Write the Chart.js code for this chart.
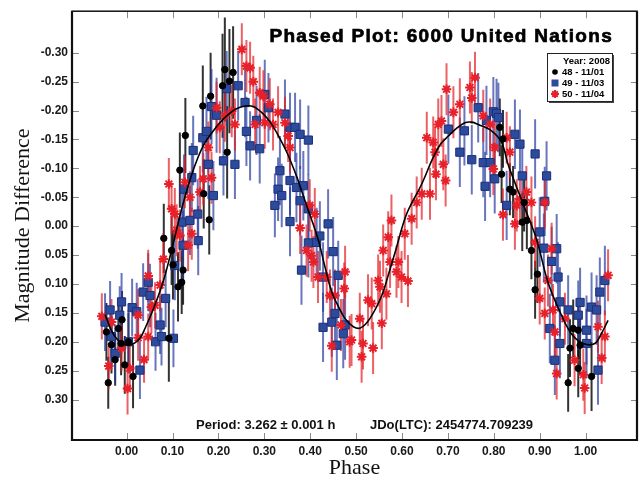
<!DOCTYPE html>
<html>
<head>
<meta charset="utf-8">
<title>Phased Plot: 6000 United Nations</title>
<script src="https://cdn.jsdelivr.net/npm/chart.js@4.4.1/dist/chart.umd.min.js"></script>
<style>
  html, body { margin: 0; padding: 0; background: #fff; }
  #plot { display: block; }
</style>
</head>
<body>
<canvas id="plot" width="644" height="481"></canvas>
<script>
// session points: [phase, magnitude difference, error]
const s48 = [
  [-0.044, 0.183, 0.05], [-0.040, 0.271, 0.045], [-0.033, 0.205, 0.05], [-0.025, 0.231, 0.045],
  [-0.018, 0.177, 0.05], [-0.012, 0.203, 0.055], [-0.010, 0.162, 0.05], [-0.004, 0.240, 0.05],
  [0.004, 0.200, 0.05], [0.014, 0.260, 0.055], [0.081, 0.021, 0.06], [0.092, 0.194, 0.075],
  [0.098, 0.042, 0.06], [0.101, 0.067, 0.06], [0.112, 0.105, 0.06], [0.120, 0.097, 0.055],
  [0.123, 0.076, 0.06], [0.116, -0.097, 0.065], [0.128, -0.157, 0.065], [0.166, -0.208, 0.07],
  [0.168, -0.056, 0.06], [0.180, -0.011, 0.06], [0.183, -0.225, 0.075], [0.209, -0.243, 0.09],
  [0.214, -0.271, 0.09], [0.219, -0.128, 0.08], [0.224, -0.251, 0.09], [0.232, -0.266, 0.08],
  [0.813, -0.171, 0.05], [0.820, -0.151, 0.05], [0.817, -0.090, 0.05], [0.835, -0.064, 0.045],
  [0.842, -0.059, 0.045], [0.862, -0.007, 0.05], [0.866, -0.041, 0.05], [0.872, -0.010, 0.05],
  [0.882, 0.042, 0.05], [0.890, 0.110, 0.05], [0.895, 0.083, 0.05], [0.962, 0.271, 0.05],
  [0.966, 0.211, 0.05], [0.973, 0.177, 0.05], [0.984, 0.180, 0.05], [0.984, 0.246, 0.05],
  [0.988, 0.206, 0.05], [1.013, 0.260, 0.06]
];

const s49 = [
  [-0.047, 0.166, 0.05], [-0.036, 0.145, 0.05], [-0.033, 0.191, 0.05], [-0.025, 0.220, 0.05],
  [-0.015, 0.154, 0.05], [-0.011, 0.131, 0.05], [0.004, 0.200, 0.055], [0.012, 0.141, 0.05],
  [0.022, 0.148, 0.05], [0.029, 0.249, 0.05], [0.036, 0.114, 0.05], [0.047, 0.097, 0.05],
  [0.051, 0.120, 0.055], [0.063, 0.200, 0.05], [0.073, 0.171, 0.05], [0.076, 0.191, 0.05],
  [0.085, 0.125, 0.05], [0.102, 0.194, 0.05], [0.121, -0.007, 0.06], [0.123, 0.033, 0.06],
  [0.105, 0.068, 0.06], [0.125, -0.064, 0.06], [0.138, -0.010, 0.06], [0.142, -0.084, 0.06],
  [0.145, -0.131, 0.06], [0.155, -0.021, 0.06], [0.156, 0.025, 0.06], [0.166, -0.153, 0.06],
  [0.174, -0.164, 0.06], [0.178, -0.107, 0.06], [0.185, -0.207, 0.065], [0.189, -0.053, 0.06],
  [0.196, -0.192, 0.065], [0.211, -0.113, 0.06], [0.218, -0.238, 0.065], [0.236, -0.107, 0.06],
  [0.243, -0.243, 0.06], [0.258, -0.214, 0.06], [0.261, -0.164, 0.06], [0.269, -0.139, 0.06],
  [0.283, -0.183, 0.06], [0.290, -0.134, 0.06], [0.301, -0.228, 0.06], [0.309, -0.205, 0.06],
  [0.323, -0.036, 0.055], [0.330, -0.064, 0.055], [0.334, -0.096, 0.06], [0.338, -0.053, 0.055],
  [0.345, -0.194, 0.06], [0.356, -0.171, 0.06], [0.356, -0.079, 0.06], [0.356, -0.008, 0.06],
  [0.367, -0.171, 0.06], [0.370, -0.067, 0.06], [0.378, -0.159, 0.06], [0.378, -0.044, 0.06],
  [0.381, 0.076, 0.06], [0.385, -0.070, 0.06], [0.396, -0.149, 0.06], [0.396, -0.030, 0.06],
  [0.396, 0.029, 0.06], [0.414, 0.028, 0.06], [0.421, 0.017, 0.06], [0.428, 0.088, 0.06],
  [0.428, 0.175, 0.06], [0.439, -0.004, 0.06], [0.447, 0.166, 0.06], [0.450, 0.044, 0.06],
  [0.454, 0.151, 0.06], [0.458, 0.206, 0.06], [0.461, 0.085, 0.06], [0.472, 0.186, 0.06],
  [0.476, 0.171, 0.06],
  [0.701, -0.168, 0.06], [0.726, -0.128, 0.06], [0.736, -0.165, 0.06], [0.752, -0.115, 0.06],
  [0.766, -0.205, 0.06], [0.777, -0.110, 0.06], [0.781, -0.069, 0.06], [0.784, -0.183, 0.06],
  [0.792, -0.110, 0.06], [0.799, -0.198, 0.06], [0.802, -0.082, 0.06], [0.806, -0.195, 0.06],
  [0.810, -0.188, 0.06], [0.828, -0.036, 0.06], [0.846, -0.159, 0.06], [0.857, -0.142, 0.06],
  [0.862, -0.087, 0.06], [0.890, -0.125, 0.06], [0.900, 0.010, 0.06], [0.909, 0.038, 0.06],
  [0.911, -0.043, 0.06], [0.915, -0.087, 0.06], [0.922, 0.177, 0.06], [0.926, 0.061, 0.06],
  [0.933, 0.232, 0.06], [0.937, 0.039, 0.06], [0.940, 0.088, 0.06], [0.944, 0.131, 0.06],
  [0.944, 0.203, 0.06], [0.962, 0.145, 0.06], [0.984, 0.154, 0.06], [0.988, 0.132, 0.06],
  [1.002, 0.180, 0.06], [1.002, 0.203, 0.06], [1.013, 0.140, 0.06], [1.024, 0.145, 0.06],
  [1.027, 0.249, 0.06], [1.031, 0.114, 0.06], [1.042, 0.094, 0.06]
];

const s50 = [
  [-0.054, 0.156, 0.04], [-0.039, 0.242, 0.04], [-0.033, 0.166, 0.04], [-0.011, 0.211, 0.04],
  [0.002, 0.281, 0.045], [0.007, 0.246, 0.04], [0.025, 0.154, 0.045], [0.025, 0.193, 0.04],
  [0.038, 0.231, 0.04], [0.047, 0.086, 0.045], [0.047, 0.191, 0.04], [0.054, 0.140, 0.045],
  [0.062, 0.137, 0.04], [0.073, 0.102, 0.045], [0.080, 0.057, 0.045], [0.092, -0.073, 0.045],
  [0.098, -0.030, 0.045], [0.105, -0.021, 0.045], [0.109, 0.007, 0.045], [0.116, 0.016, 0.045],
  [0.127, -0.076, 0.045], [0.134, 0.033, 0.045], [0.138, -0.050, 0.045], [0.142, 0.013, 0.045],
  [0.160, -0.059, 0.045], [0.167, -0.082, 0.045], [0.178, -0.136, 0.045], [0.185, -0.084, 0.045],
  [0.196, -0.205, 0.045], [0.203, -0.171, 0.045], [0.214, -0.191, 0.045], [0.229, -0.199, 0.045],
  [0.236, -0.176, 0.045], [0.251, -0.306, 0.045], [0.261, -0.277, 0.045], [0.269, -0.274, 0.045],
  [0.276, -0.250, 0.045], [0.280, -0.176, 0.045], [0.290, -0.231, 0.045], [0.298, -0.225, 0.045],
  [0.301, -0.179, 0.045], [0.312, -0.211, 0.045], [0.319, -0.176, 0.045], [0.330, -0.197, 0.045],
  [0.345, -0.179, 0.045], [0.352, -0.156, 0.045], [0.356, -0.136, 0.045], [0.378, 0.003, 0.045],
  [0.392, 0.042, 0.045], [0.399, -0.036, 0.045], [0.403, 0.051, 0.045], [0.407, 0.062, 0.045],
  [0.410, -0.021, 0.045], [0.417, 0.088, 0.045], [0.436, 0.088, 0.045], [0.443, 0.120, 0.045],
  [0.447, 0.207, 0.045], [0.454, 0.120, 0.045], [0.467, 0.171, 0.045], [0.474, 0.108, 0.045],
  [0.476, 0.079, 0.045], [0.486, 0.200, 0.045], [0.490, 0.197, 0.045], [0.508, 0.160, 0.045],
  [0.512, 0.226, 0.045], [0.515, 0.203, 0.045], [0.526, 0.128, 0.045], [0.534, 0.134, 0.045],
  [0.537, 0.211, 0.045], [0.548, 0.094, 0.045], [0.552, 0.105, 0.045], [0.556, 0.168, 0.045],
  [0.559, 0.042, 0.045], [0.566, 0.117, 0.045], [0.570, 0.019, 0.045], [0.574, 0.062, 0.045],
  [0.577, -0.010, 0.045], [0.588, 0.079, 0.045], [0.592, 0.062, 0.045], [0.599, 0.088, 0.045],
  [0.606, 0.013, 0.045], [0.613, 0.095, 0.045], [0.621, -0.013, 0.045], [0.632, -0.041, 0.045],
  [0.643, -0.056, 0.045], [0.654, -0.153, 0.045], [0.661, -0.056, 0.045], [0.668, -0.145, 0.045],
  [0.672, -0.128, 0.045], [0.674, -0.090, 0.045], [0.679, -0.176, 0.045], [0.686, -0.182, 0.045],
  [0.690, -0.107, 0.045], [0.695, -0.079, 0.045], [0.697, -0.237, 0.045], [0.712, -0.197, 0.045],
  [0.726, -0.211, 0.045], [0.748, -0.240, 0.045], [0.752, -0.222, 0.045], [0.759, -0.257, 0.045],
  [0.777, -0.191, 0.045], [0.792, -0.176, 0.045], [0.799, -0.099, 0.045], [0.802, -0.136, 0.045],
  [0.820, -0.020, 0.045], [0.828, -0.153, 0.045], [0.835, -0.128, 0.045], [0.846, -0.004, 0.045],
  [0.850, -0.036, 0.045], [0.857, -0.047, 0.045], [0.871, -0.059, 0.045], [0.882, -0.041, 0.045],
  [0.890, 0.028, 0.045], [0.900, 0.125, 0.045], [0.911, -0.041, 0.045], [0.911, 0.151, 0.045],
  [0.918, 0.094, 0.045], [0.926, 0.039, 0.045], [0.929, 0.145, 0.045], [0.933, 0.183, 0.045],
  [0.937, 0.255, 0.045], [0.955, 0.160, 0.045], [0.976, 0.232, 0.045], [0.995, 0.257, 0.045],
  [0.998, 0.280, 0.045], [1.027, 0.174, 0.045], [1.035, 0.228, 0.045], [1.042, 0.191, 0.045],
  [1.049, 0.085, 0.045]
];

// fitted lightcurve: [phase, magnitude difference]
const fitCurve = [
  [-0.047, 0.153], [-0.030, 0.185], [-0.010, 0.203], [0.010, 0.205], [0.029, 0.194], [0.040, 0.177],
  [0.060, 0.140], [0.080, 0.095], [0.100, 0.035], [0.120, -0.030], [0.138, -0.080], [0.155, -0.118],
  [0.171, -0.145], [0.190, -0.166], [0.203, -0.179], [0.220, -0.192], [0.236, -0.202], [0.258, -0.208],
  [0.276, -0.207], [0.298, -0.194], [0.313, -0.180], [0.327, -0.162], [0.349, -0.128], [0.370, -0.087],
  [0.392, -0.036], [0.417, 0.022], [0.432, 0.070], [0.447, 0.114], [0.462, 0.140], [0.476, 0.160],
  [0.494, 0.174], [0.510, 0.176], [0.530, 0.160], [0.556, 0.120], [0.570, 0.085], [0.585, 0.045],
  [0.610, -0.021], [0.643, -0.073], [0.668, -0.119], [0.685, -0.143], [0.701, -0.156], [0.720, -0.170],
  [0.737, -0.179], [0.752, -0.180], [0.766, -0.176], [0.795, -0.165], [0.817, -0.145], [0.831, -0.107],
  [0.850, -0.067], [0.870, -0.026], [0.893, 0.022], [0.918, 0.097], [0.944, 0.148], [0.969, 0.186],
  [0.995, 0.203], [1.020, 0.203], [1.035, 0.185], [1.049, 0.163]
];

const xTicks = [0.00, 0.10, 0.20, 0.30, 0.40, 0.50, 0.60, 0.70, 0.80, 0.90, 1.00];
const yTicks = [-0.30, -0.25, -0.20, -0.15, -0.10, -0.05, 0.00, 0.05, 0.10, 0.15, 0.20, 0.25, 0.30];

const chartTitle = 'Phased Plot: 6000 United Nations';
const periodNote = 'Period: 3.262 \u00b1 0.001 h';
const epochNote = 'JDo(LTC): 2454774.709239';
const legendHeader = 'Year: 2008';

const SANS = '"Liberation Sans", Arial, sans-serif';
const SERIF = '"Liberation Serif", "Times New Roman", serif';

function toPoints(rows) {
  return rows.map(r => ({ x: r[0], y: r[1], err: r[2] }));
}

// vertical error bars behind the markers
const errorBars = {
  id: 'errorBars',
  beforeDatasetsDraw(chart) {
    const { ctx, scales: { x, y } } = chart;
    ctx.save();
    ctx.beginPath();
    ctx.rect(chart.chartArea.left, chart.chartArea.top, chart.chartArea.width, chart.chartArea.height);
    ctx.clip();
    chart.data.datasets.forEach(ds => {
      if (!ds.barColor) return;
      ctx.strokeStyle = ds.barColor;
      ctx.lineWidth = 2;
      ds.data.forEach(p => {
        const px = x.getPixelForValue(p.x);
        ctx.beginPath();
        ctx.moveTo(px, y.getPixelForValue(p.y - p.err));
        ctx.lineTo(px, y.getPixelForValue(p.y + p.err));
        ctx.stroke();
      });
    });
    ctx.restore();
  }
};

// frame, inner tick marks, titles and the session key
const decorations = {
  id: 'decorations',
  afterDraw(chart) {
    const { ctx, chartArea: a, scales: { x, y } } = chart;
    ctx.save();

    // inner ticks
    ctx.strokeStyle = '#8a8a8a';
    ctx.lineWidth = 1;
    xTicks.forEach(v => {
      const px = Math.round(x.getPixelForValue(v)) + 0.5;
      ctx.beginPath();
      ctx.moveTo(px, a.top); ctx.lineTo(px, a.top + 7);
      ctx.moveTo(px, a.bottom); ctx.lineTo(px, a.bottom - 7);
      ctx.stroke();
    });
    yTicks.forEach(v => {
      const py = Math.round(y.getPixelForValue(v)) + 0.5;
      ctx.beginPath();
      ctx.moveTo(a.left, py); ctx.lineTo(a.left + 7, py);
      ctx.moveTo(a.right, py); ctx.lineTo(a.right - 6, py);
      ctx.stroke();
    });

    // frame
    ctx.strokeStyle = '#111';
    ctx.lineWidth = 1.5;
    ctx.strokeRect(a.left, a.top, a.right - a.left, a.bottom - a.top);
    ctx.lineWidth = 2.2;
    ctx.beginPath();
    ctx.moveTo(a.left, a.top);
    ctx.lineTo(a.left, a.bottom);
    ctx.lineTo(a.right, a.bottom);
    ctx.lineTo(a.right, a.top);
    ctx.stroke();

    // chart title, heavy face
    ctx.fillStyle = '#000';
    ctx.strokeStyle = '#000';
    ctx.lineWidth = 0.7;
    ctx.font = 'bold 19px ' + SANS;
    ctx.letterSpacing = '1.3px';
    ctx.textAlign = 'right';
    ctx.textBaseline = 'alphabetic';
    ctx.fillText(chartTitle, a.right - 24, a.top + 31);
    ctx.strokeText(chartTitle, a.right - 24, a.top + 31);
    ctx.letterSpacing = '0px';

    // period and epoch
    ctx.font = 'bold 13px ' + SANS;
    ctx.fillStyle = '#111';
    ctx.textAlign = 'left';
    ctx.textBaseline = 'middle';
    ctx.fillText(periodNote, a.left + 124, a.bottom - 15);
    ctx.fillText(epochNote, a.left + 298, a.bottom - 15);

    // session key
    const bx = 547, by = 53, bw = 65, bh = 48;
    ctx.fillStyle = '#444';
    ctx.fillRect(bx + 2, by + 2, bw, bh);
    ctx.fillStyle = '#fff';
    ctx.fillRect(bx, by, bw, bh);
    ctx.strokeStyle = '#222';
    ctx.lineWidth = 1;
    ctx.strokeRect(bx + 0.5, by + 0.5, bw, bh);
    ctx.fillStyle = '#000';
    ctx.font = 'bold 9.5px ' + SANS;
    ctx.textAlign = 'right';
    ctx.fillText(legendHeader, bx + bw - 2, by + 8);
    ctx.textAlign = 'left';
    chart.data.datasets.forEach((ds, i) => {
      if (!ds.barColor) return;
      const ly = by + 19 + i * 11;
      ctx.fillStyle = ds.backgroundColor;
      ctx.strokeStyle = ds.borderColor;
      ctx.lineWidth = ds.pointBorderWidth;
      ctx.beginPath();
      if (ds.pointStyle === 'circle') {
        ctx.arc(bx + 8, ly, 2.8, 0, Math.PI * 2);
        ctx.fill();
      } else if (ds.pointStyle === 'rect') {
        ctx.fillRect(bx + 4.5, ly - 3.5, 7, 7);
      } else {
        for (let k = 0; k < 4; k++) {
          const ang = k * Math.PI / 4;
          ctx.moveTo(bx + 8 - 4 * Math.cos(ang), ly - 4 * Math.sin(ang));
          ctx.lineTo(bx + 8 + 4 * Math.cos(ang), ly + 4 * Math.sin(ang));
        }
        ctx.stroke();
      }
      ctx.fillStyle = '#000';
      ctx.fillText(ds.label, bx + 15, ly);
    });

    ctx.restore();
  }
};

new Chart(document.getElementById('plot'), {
  type: 'scatter',
  data: {
    datasets: [
      {
        label: '48 - 11/01',
        data: toPoints(s48),
        barColor: 'rgba(15, 15, 15, 0.85)',
        pointStyle: 'circle',
        pointRadius: 3.2,
        pointBorderWidth: 1,
        backgroundColor: '#000',
        borderColor: '#000',
        order: 1
      },
      {
        label: '49 - 11/03',
        data: toPoints(s49),
        barColor: 'rgba(40, 60, 160, 0.7)',
        pointStyle: 'rect',
        pointRadius: 5.8,
        pointBorderWidth: 1,
        backgroundColor: '#2c4b9d',
        borderColor: '#1d2f78',
        order: 3
      },
      {
        label: '50 - 11/04',
        data: toPoints(s50),
        barColor: 'rgba(228, 30, 36, 0.7)',
        pointStyle: 'star',
        pointRadius: 4.8,
        pointBorderWidth: 2,
        backgroundColor: '#e8202a',
        borderColor: '#e8202a',
        order: 2
      },
      {
        label: 'Fit',
        data: fitCurve.map(p => ({ x: p[0], y: p[1] })),
        showLine: true,
        borderColor: '#000',
        borderWidth: 1.6,
        pointRadius: 0,
        tension: 0.35,
        order: 0
      }
    ]
  },
  plugins: [errorBars, decorations],
  options: {
    responsive: false,
    animation: false,
    layout: { padding: { top: 7, right: 7, left: 0, bottom: 0 } },
    plugins: {
      legend: { display: false },
      tooltip: { enabled: false }
    },
    scales: {
      x: {
        type: 'linear',
        min: -0.119,
        max: 1.112,
        grid: { display: false, drawTicks: false },
        border: { display: false },
        afterBuildTicks: s => { s.ticks = xTicks.map(v => ({ value: v })); },
        afterFit: s => { s.height = 41; },
        ticks: {
          padding: 4,
          autoSkip: false,
          maxRotation: 0,
          color: '#1a1a1a',
          font: { family: SANS, size: 12, weight: 'bold' },
          callback: v => v.toFixed(2)
        },
        title: {
          display: true,
          text: 'Phase',
          color: '#111',
          padding: { top: 0, bottom: 0 },
          font: { family: SERIF, size: 22 }
        }
      },
      y: {
        type: 'linear',
        reverse: true,
        min: -0.372,
        max: 0.370,
        grid: { display: false, drawTicks: false },
        border: { display: false },
        afterBuildTicks: s => { s.ticks = yTicks.map(v => ({ value: v })); },
        afterFit: s => { s.width = 72; },
        ticks: {
          padding: 4,
          autoSkip: false,
          color: '#1a1a1a',
          font: { family: SANS, size: 12, weight: 'bold' },
          callback: v => v.toFixed(2)
        },
        title: {
          display: true,
          text: 'Magnitude Difference',
          color: '#111',
          padding: { top: 10, bottom: 0 },
          font: { family: SERIF, size: 22 }
        }
      }
    }
  }
});
</script>
</body>
</html>
